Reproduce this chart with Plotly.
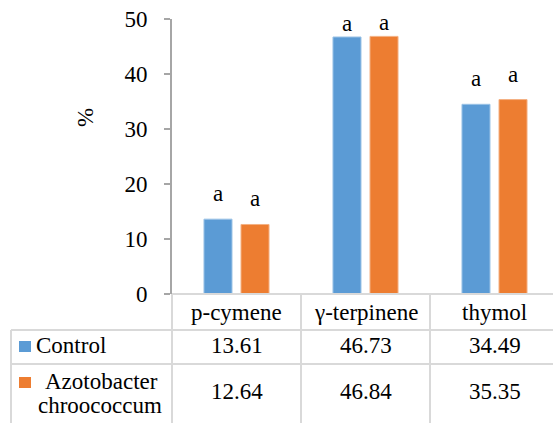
import plotly.graph_objects as go

categories = ["p-cymene", "γ-terpinene", "thymol"]
series_names = ["Control", "Azotobacter chroococcum"]
control = [13.61, 46.73, 34.49]
azoto = [12.64, 46.84, 35.35]
control_letters = ["a", "a", "a"]
azoto_letters = ["a", "a", "a"]
y_ticks = [0, 10, 20, 30, 40, 50]

BLUE = "#5B9BD5"
ORANGE = "#ED7D31"
FONT = "'Liberation Serif', 'Times New Roman', 'DejaVu Serif', serif"
FS = 23
GRID = "#d9d9d9"
AXIS = "#a6a6a6"

W, H = 553, 423
L, T, B = 172, 19, 129
PW = W - L
PH = H - T - B
CAT_PX = 129.0

def px(x):
    return (x - L) / PW

def py(y):
    return (T + PH - y) / PH

fig = go.Figure()
fig.add_trace(go.Bar(x=categories, y=control, name=series_names[0],
                     marker=dict(color=BLUE, line=dict(color="#9cc3e6", width=1))))
fig.add_trace(go.Bar(x=categories, y=azoto, name=series_names[1],
                     marker=dict(color=ORANGE, line=dict(color="#f4b183", width=1))))

shapes = []
line = dict(color=GRID, width=2)
# table horizontal lines
shapes.append(dict(type="line", xref="paper", yref="paper", x0=0, x1=1, y0=py(294), y1=py(294), line=line))
for yy in (330, 364):
    shapes.append(dict(type="line", xref="paper", yref="paper", x0=px(11), x1=1, y0=py(yy), y1=py(yy), line=line))
# table vertical lines
shapes.append(dict(type="line", xref="paper", yref="paper", x0=px(11), x1=px(11), y0=py(330), y1=py(H + 5), line=line))
shapes.append(dict(type="line", xref="paper", yref="paper", x0=0, x1=0, y0=py(294), y1=py(H + 5), line=line))
for i in range(len(categories)):
    xb = i + 0.5
    shapes.append(dict(type="line", xref="x", yref="paper", x0=xb, x1=xb, y0=py(294), y1=py(H + 5), line=line))
# legend keys
shapes.append(dict(type="rect", xref="paper", yref="paper", x0=px(19), x1=px(31), y0=py(352), y1=py(341),
                   fillcolor=BLUE, line=dict(width=0)))
shapes.append(dict(type="rect", xref="paper", yref="paper", x0=px(19), x1=px(31), y0=py(388), y1=py(377),
                   fillcolor=ORANGE, line=dict(width=0)))

font = dict(family=FONT, size=FS, color="black")
ann = []
for i, c in enumerate(categories):
    ann.append(dict(x=i, xref="x", y=py(312), yref="paper", text=c, showarrow=False,
                    font=font, xanchor="center", yanchor="middle"))
    ann.append(dict(x=i, xref="x", y=py(346), yref="paper", text=f"{control[i]:.2f}", showarrow=False,
                    font=font, xanchor="center", yanchor="middle"))
    ann.append(dict(x=i, xref="x", y=py(391), yref="paper", text=f"{azoto[i]:.2f}", showarrow=False,
                    font=font, xanchor="center", yanchor="middle"))

ann.append(dict(x=px(34), xref="paper", y=py(346), yref="paper", text=series_names[0], showarrow=False,
                font=font, xanchor="left", yanchor="middle"))
w1, w2 = series_names[1].split(" ")
ann.append(dict(x=px(101), xref="paper", y=py(381), yref="paper", text=w1, showarrow=False,
                font=font, xanchor="center", yanchor="middle"))
ann.append(dict(x=px(100), xref="paper", y=py(405), yref="paper", text=w2, showarrow=False,
                font=font, xanchor="center", yanchor="middle"))

# y-axis title
ann.append(dict(x=px(85), xref="paper", y=py(118), yref="paper", text="%", showarrow=False,
                font=font, textangle=-90, xanchor="center", yanchor="middle"))

# significance letters
label_gap = [17, 5, 17]
offset = 18.5
for i in range(len(categories)):
    for vals, letters, sgn in ((control, control_letters, -1), (azoto, azoto_letters, 1)):
        ann.append(dict(x=i, xref="x", xshift=sgn * offset, y=vals[i], yref="y", text=letters[i],
                        showarrow=False, font=font, xanchor="center", yanchor="bottom",
                        yshift=label_gap[i] - 6))

fig.update_layout(
    width=W, height=H,
    margin=dict(l=L, r=0, t=T, b=B, pad=0),
    paper_bgcolor="white", plot_bgcolor="white",
    barmode="group", bargap=0.426, bargroupgap=0.243,
    showlegend=False,
    shapes=shapes, annotations=ann,
    font=dict(family=FONT, size=FS, color="black"),
)
fig.update_xaxes(range=[-0.5, -0.5 + PW / CAT_PX], showticklabels=False, showline=False,
                 showgrid=False, zeroline=False, ticks="")
fig.update_yaxes(range=[0, 50], tickvals=y_ticks, showgrid=False, zeroline=False,
                 showline=True, linecolor=AXIS, linewidth=2, ticks="outside", ticklen=6,
                 tickcolor=AXIS, tickwidth=2, ticklabelstandoff=12,
                 tickfont=dict(family=FONT, size=FS, color="black"))

fig.write_html("out.html", config={"displayModeBar": False},
               post_script="document.body.style.margin='0';document.body.style.overflow='hidden';")
